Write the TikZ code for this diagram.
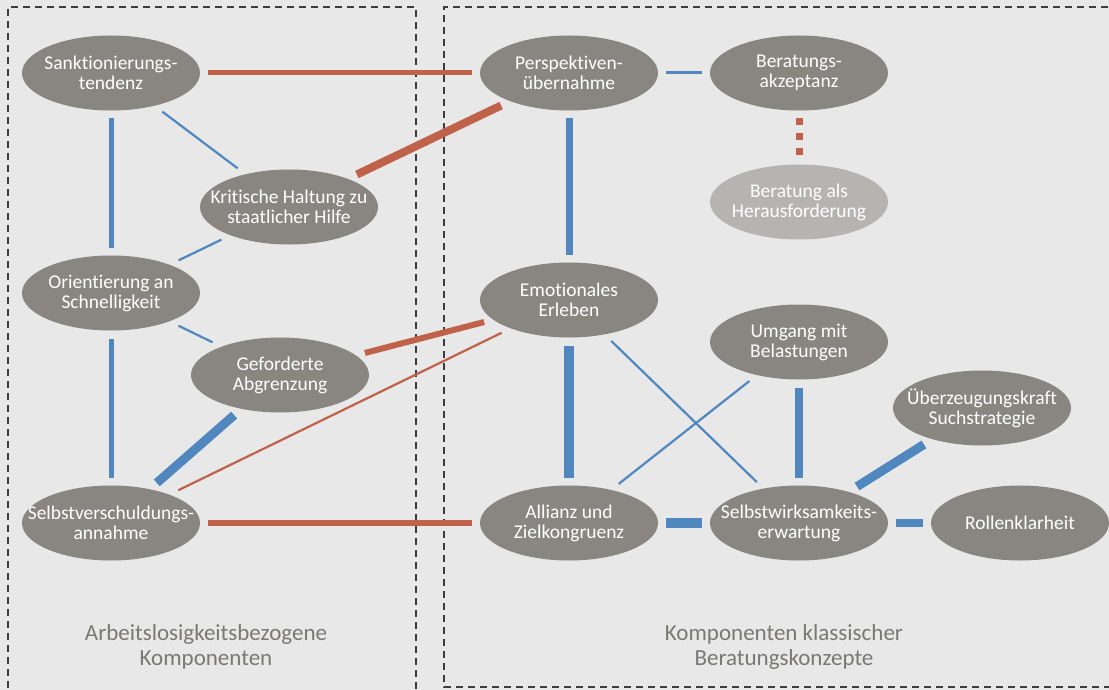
\documentclass[tikz,border=0pt]{standalone}
\usepackage{fontspec}
\setmainfont{Carlito}[Ligatures=NoCommon]
\usepackage{xcolor}
\usepackage{tikz}
\usetikzlibrary{shapes.geometric}
\definecolor{bkBg}{HTML}{E8E8E8}
\definecolor{bkNode}{HTML}{898681}
\definecolor{bkNodeLight}{HTML}{B5B4B1}
\definecolor{bkBlue}{HTML}{4F87BE}
\definecolor{bkRed}{HTML}{C0614A}
\definecolor{bkFrame}{HTML}{3C3C3C}
\definecolor{bkLabel}{HTML}{7A7875}
\tikzset{
  concept/.style={
    ellipse, fill=#1, draw=none,
    text=white,
    minimum width=178pt, minimum height=75pt,
    inner sep=-24pt, outer sep=8pt,
    align=center,
    font=\fontsize{19.5}{20}\selectfont
  },
  bluelink/.style={bkBlue, line width=#1},
  redlink/.style={bkRed, line width=#1},
  dotlink/.style={bkRed, line width=7pt, dash pattern=on 7pt off 8pt},
  groupbox/.style={bkFrame, line width=1.1pt, dash pattern=on 7pt off 5pt},
  grouplabel/.style={bkLabel, align=center, font=\fontsize{23}{25}\selectfont}
}

\begin{document}
\begin{tikzpicture}[x=1pt, y=-1pt]
      \fill[bkBg] (0,0) rectangle (1109,690);
      \useasboundingbox (0,0) rectangle (1109,690);
      \clip (0,0) rectangle (1109,690);
      % group frames
      \draw[groupbox] (8,700) -- (8,7) -- (416,7) -- (416,700);
      \draw[groupbox] (1120,7) -- (444,7) -- (444,687) -- (1120,687);
      \node[grouplabel] (leftlabel) at (206,647) {Arbeitslosigkeitsbezogene\\Komponenten};
      \node[grouplabel] (rightlabel) at (784,647) {Komponenten klassischer\\Beratungskonzepte};
      % left group
      \node[concept=bkNode] (sankt) at (111,73) {Sanktionierungs-\\tendenz};
      \node[concept=bkNode] (kritik) at (289,207) {Kritische Haltung zu\\staatlicher Hilfe};
      \node[concept=bkNode] (orient) at (111,293) {Orientierung an\\Schnelligkeit};
      \node[concept=bkNode] (abgr) at (280,375) {Geforderte\\Abgrenzung};
      \node[concept=bkNode] (selbstv) at (111,523) {Selbstverschuldungs-\\annahme};
      % right group
      \node[concept=bkNode] (persp) at (569,73) {Perspektiven-\\übernahme};
      \node[concept=bkNode] (akzept) at (799,73) {Beratungs-\\akzeptanz};
      \node[concept=bkNodeLight] (herausf) at (799,202) {Beratung als\\Herausforderung};
      \node[concept=bkNode] (emot) at (569,300) {Emotionales\\Erleben};
      \node[concept=bkNode] (umgang) at (799,342) {Umgang mit\\Belastungen};
      \node[concept=bkNode] (ueberz) at (982,408) {Überzeugungskraft\\Suchstrategie};
      \node[concept=bkNode] (allianz) at (569,523) {Allianz und\\Zielkongruenz};
      \node[concept=bkNode] (wirks) at (799,523) {Selbstwirksamkeits-\\erwartung};
      \node[concept=bkNode] (rolle) at (1020,523) {Rollenklarheit};
      % links
      \draw[bluelink=5pt] (sankt) -- (orient);
      \draw[bluelink=2.2pt] (sankt) -- (kritik);
      \draw[bluelink=2.2pt] (kritik) -- (orient);
      \draw[bluelink=5pt] (orient) -- (selbstv);
      \draw[bluelink=2.2pt] (orient) -- (abgr);
      \draw[bluelink=9pt] (abgr) -- (selbstv);
      \draw[redlink=5pt] (sankt) -- (persp);
      \draw[redlink=8pt] (kritik) -- (persp);
      \draw[redlink=6pt] (abgr) -- (emot);
      \draw[redlink=2.2pt] (selbstv) -- (emot);
      \draw[redlink=5.5pt] (selbstv) -- (allianz);
      \draw[bluelink=3pt] (persp) -- (akzept);
      \draw[dotlink] (akzept) -- (herausf);
      \draw[bluelink=7pt] (persp) -- (emot);
      \draw[bluelink=9.5pt] (emot) -- (allianz);
      \draw[bluelink=2.2pt] (emot) -- (wirks);
      \draw[bluelink=2.2pt] (umgang) -- (allianz);
      \draw[bluelink=7.5pt] (umgang) -- (wirks);
      \draw[bluelink=9pt] (ueberz) -- (wirks);
      \draw[bluelink=10.5pt] (allianz) -- (wirks);
      \draw[bluelink=7.5pt] (wirks) -- (rolle);
    \end{tikzpicture}
\end{document}
